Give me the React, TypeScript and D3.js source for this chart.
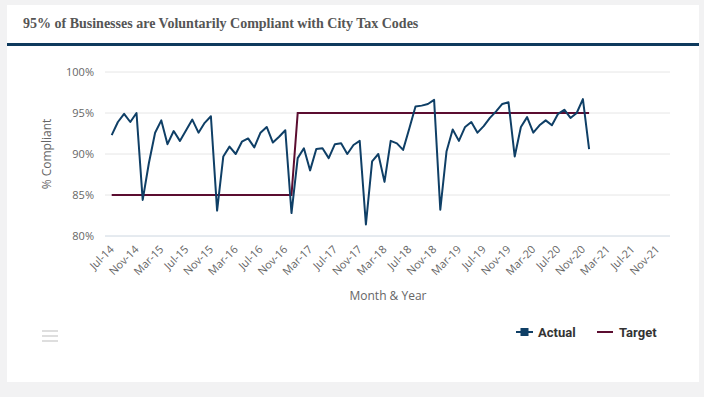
import React from 'react';
import * as d3 from 'd3';

// monthly compliance, Jul-14 .. Dec-20
const actual = [
  92.3, 93.9, 94.9, 93.9, 95.0, 84.4, 88.9, 92.6, 94.1, 91.2,
  92.8, 91.6, 92.9, 94.2, 92.6, 93.8, 94.6, 83.1, 89.7, 90.9,
  90.0, 91.5, 91.9, 90.8, 92.6, 93.3, 91.4, 92.1, 92.9, 82.8,
  89.5, 90.7, 88.0, 90.6, 90.7, 89.5, 91.2, 91.3, 90.0, 91.1,
  91.6, 81.4, 89.1, 90.0, 86.6, 91.6, 91.3, 90.5, 93.1, 95.8,
  95.9, 96.1, 96.6, 83.2, 90.3, 93.0, 91.6, 93.3, 93.9, 92.6,
  93.4, 94.4, 95.2, 96.1, 96.3, 89.7, 93.3, 94.5, 92.6, 93.5,
  94.1, 93.5, 94.9, 95.4, 94.4, 95.0, 96.7, 90.6,
];
const target = [
  85, 85, 85, 85, 85, 85, 85, 85, 85, 85,
  85, 85, 85, 85, 85, 85, 85, 85, 85, 85,
  85, 85, 85, 85, 85, 85, 85, 85, 85, 85,
  95, 95, 95, 95, 95, 95, 95, 95, 95, 95,
  95, 95, 95, 95, 95, 95, 95, 95, 95, 95,
  95, 95, 95, 95, 95, 95, 95, 95, 95, 95,
  95, 95, 95, 95, 95, 95, 95, 95, 95, 95,
  95, 95, 95, 95, 95, 95, 95, 95,
];
const tickLabels = [
  'Jul-14', 'Nov-14', 'Mar-15', 'Jul-15', 'Nov-15', 'Mar-16', 'Jul-16', 'Nov-16',
  'Mar-17', 'Jul-17', 'Nov-17', 'Mar-18', 'Jul-18', 'Nov-18', 'Mar-19', 'Jul-19',
  'Nov-19', 'Mar-20', 'Jul-20', 'Nov-20', 'Mar-21', 'Jul-21', 'Nov-21',
];
const yTicks = [80, 85, 90, 95, 100];

const fmt = d3.timeFormat('%b-%y');
const months = d3.timeMonth.range(new Date(2014, 6, 1), new Date(2021, 11, 1)).map(fmt);

const W = 704;
const H = 397;
const font = '"Open Sans", sans-serif';
const actualColor = '#0f3f66';
const targetColor = '#5b0d30';

const App: React.FC = () => {
  const x = d3.scalePoint<string>().domain(months).range([111.7, 657.3]);
  const y = d3.scaleLinear().domain([80, 100]).range([236, 72]);

  const line = d3.line<number>()
    .x((_, i) => x(months[i])!)
    .y((d) => y(d));

  return (
    <svg width={W} height={H} style={{ position: 'absolute', left: 0, top: 0 }}>
      <rect x={0} y={0} width={W} height={H} fill="#f2f2f3" />
      <rect x={7} y={5} width={692} height={377} fill="#fff" />
      <text x={23} y={28} fontFamily='"Liberation Serif", serif' fontWeight="bold" fontSize={14} fill="#555">
        95% of Businesses are Voluntarily Compliant with City Tax Codes
      </text>
      <rect x={7} y={43} width={692} height={3} fill="#0e3a5d" />

      {/* grid + y labels */}
      {yTicks.map((t) => (
        <g key={t}>
          <line x1={105} x2={670} y1={y(t)} y2={y(t)} stroke={t === 80 ? '#ccd6e0' : '#e6e6e6'} strokeWidth={1} />
          <text x={94} y={y(t)} dy="0.35em" textAnchor="end" fontFamily={font} fontSize={11} fill="#666">
            {t}%
          </text>
        </g>
      ))}
      <text
        transform={`translate(51,154) rotate(-90)`}
        textAnchor="middle"
        fontFamily={font}
        fontSize={12}
        fill="#666"
      >
        % Compliant
      </text>

      {/* x labels */}
      {tickLabels.map((m) => (
        <text
          key={m}
          transform={`translate(${x(m)! + 3},250) rotate(-45)`}
          textAnchor="end"
          fontFamily={font}
          fontSize={11}
          fill="#666"
        >
          {m}
        </text>
      ))}
      <text x={388} y={300} textAnchor="middle" fontFamily={font} fontSize={12} fill="#666">
        Month &amp; Year
      </text>

      <path d={line(target)!} fill="none" stroke={targetColor} strokeWidth={2} />
      <path d={line(actual)!} fill="none" stroke={actualColor} strokeWidth={2} strokeLinejoin="round" />

      {/* legend */}
      <g fontFamily="Roboto, sans-serif" fontWeight="bold" fontSize={13} fill="#333">
        <line x1={516} x2={533} y1={332} y2={332} stroke={actualColor} strokeWidth={2} />
        <rect x={520.5} y={328} width={8} height={8} fill={actualColor} />
        <text x={538} y={332} dy="0.35em">Actual</text>
        <line x1={597} x2={613} y1={332} y2={332} stroke={targetColor} strokeWidth={2} />
        <text x={619} y={332} dy="0.35em">Target</text>
      </g>

      {/* menu icon */}
      {[331, 336, 341].map((yy) => (
        <line key={yy} x1={42} x2={58} y1={yy} y2={yy} stroke="#dedede" strokeWidth={2} />
      ))}
    </svg>
  );
};

export default App;
